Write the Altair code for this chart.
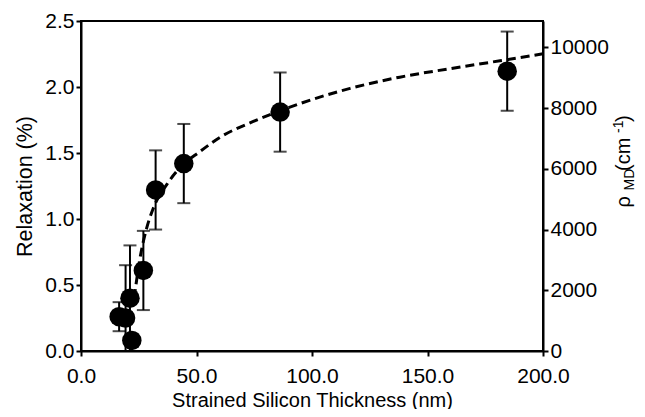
import altair as alt
import pandas as pd

# Measured points (Relaxation %, left axis)
thickness = [16.5, 19.3, 21.2, 22.0, 27.0, 32.3, 44.5, 86.2, 184.5]
relaxation = [0.26, 0.25, 0.40, 0.08, 0.61, 1.22, 1.42, 1.81, 2.12]
rel_error = [0.11, 0.40, 0.40, 0.05, 0.30, 0.30, 0.30, 0.30, 0.30]

# Dashed curve (rho_MD, right axis, cm^-1)
curve_thickness = [23.0, 25.5, 28.4, 31.3, 37.1, 42.9, 51.5, 60.2, 74.6, 94.8, 116.5, 138.0, 159.7, 181.4, 200.0]
curve_rho = [1740, 3040, 4040, 4700, 5480, 6040, 6570, 7040, 7560, 8150, 8650, 9020, 9300, 9560, 9790]

x_ticks = [0, 50, 100, 150, 200]
y_ticks = [0, 0.5, 1.0, 1.5, 2.0, 2.5]
rho_ticks = [0, 2000, 4000, 6000, 8000, 10000]

pts = pd.DataFrame({"t": thickness, "r": relaxation, "e": rel_error})
pts["lo"] = (pts["r"] - pts["e"]).clip(lower=0)
pts["hi"] = pts["r"] + pts["e"]
curve = pd.DataFrame({"t": curve_thickness, "rho": curve_rho})

FONT = "Liberation Sans"
xs = alt.Scale(domain=[0, 200], nice=False)
ys = alt.Scale(domain=[0, 2.5], nice=False)
rs = alt.Scale(domain=[0, 10870], nice=False)

xax = alt.Axis(values=x_ticks, format=".1f", title="Strained Silicon Thickness (nm)",
               labelPadding=9, titlePadding=4, labelFlush=False)
yax = alt.Axis(values=y_ticks, format=".1f", title="Relaxation (%)", titlePadding=8,
               titleFontSize=21.5, labelFlush=False)

X = alt.X("t:Q", scale=xs, axis=xax)

rules = alt.Chart(pts).mark_rule(color="black", strokeWidth=2).encode(
    x=X, y=alt.Y("lo:Q", scale=ys, axis=yax), y2="hi:Q")
cap_hi = alt.Chart(pts).mark_tick(color="black", thickness=2, size=13, orient="horizontal").encode(
    x=X, y=alt.Y("hi:Q", scale=ys, axis=yax))
cap_lo = alt.Chart(pts).mark_tick(color="black", thickness=2, size=13, orient="horizontal").encode(
    x=X, y=alt.Y("lo:Q", scale=ys, axis=yax))
dots = alt.Chart(pts).mark_circle(color="black", size=380, opacity=1).encode(
    x=X, y=alt.Y("r:Q", scale=ys, axis=yax))

left = alt.layer(rules, cap_hi, cap_lo, dots)

line = alt.Chart(curve).mark_line(color="black", strokeWidth=3, strokeDash=[9, 5], interpolate="monotone").encode(
    x=X,
    y=alt.Y("rho:Q", scale=rs, axis=alt.Axis(values=rho_ticks, format="d", title=None,
                                             orient="right", labelFlush=False)))

def piece(txt, xv, yv, size):
    return alt.Chart(pd.DataFrame({"a": [0]})).mark_text(
        text=txt, angle=270, align="left", baseline="alphabetic",
        font=FONT, fontSize=size, color="black").encode(x=alt.value(xv), y=alt.value(yv))

title_pieces = [
    piece("ρ", 549, 186.5, 20),
    piece("MD", 553, 169.5, 14),
    piece("(cm", 549, 150, 20),
    piece("-1", 542, 112, 14),
    piece(")", 549, 101, 20),
]

chart = alt.layer(line, left, *title_pieces).resolve_scale(y="independent").properties(
    width=462, height=330,
    autosize=alt.AutoSizeParams(type="none"),
    padding={"left": 73, "top": 13, "right": 94, "bottom": 58},
).configure_view(stroke="black", strokeWidth=2).configure_axis(
    domainColor="black", domainWidth=2, tickColor="black", tickWidth=2, tickSize=5,
    labelFont=FONT, labelFontSize=21, labelColor="black",
    titleFont=FONT, titleFontSize=20, titleFontWeight="normal", titleColor="black",
    grid=False,
)

chart.save("out.html", embed_options={"renderer": "svg", "actions": False})
